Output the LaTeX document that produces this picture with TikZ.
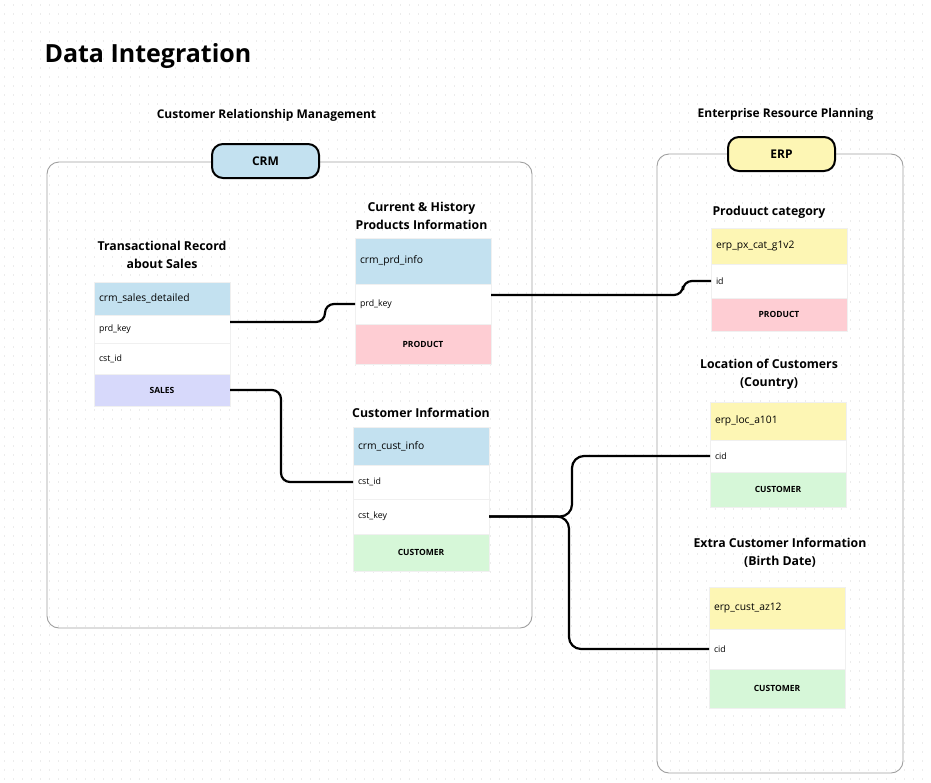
\documentclass[tikz,border=0pt]{standalone}
\usepackage{fontspec}
\setmainfont{Open Sans}
\usetikzlibrary{positioning}
\definecolor{hblue}{HTML}{C3E1F0}
\definecolor{hyellow}{HTML}{FDF6B4}
\definecolor{fpink}{HTML}{FECDD3}
\definecolor{flav}{HTML}{D7D9FB}
\definecolor{fgreen}{HTML}{D6F7D8}
\tikzset{
 box/.style={draw=gray!75,line width=0.9pt,rounded corners=12pt},
 pill/.style={draw=black,line width=2pt,rounded corners=11pt,minimum width=107pt,minimum height=34pt,font=\fontsize{12}{14}\selectfont\bfseries},
 sect/.style={font=\fontsize{12}{14}\selectfont\bfseries},
 ttl/.style={align=center,font=\fontsize{12.3}{18}\selectfont\bfseries},
 cell/.style={draw=gray!12,line width=0.6pt,outer sep=0pt,inner xsep=5pt,text width=126pt,align=left,anchor=north west},
 hdr/.style={cell,font=\fontsize{10.3}{12}\selectfont},
 row/.style={cell,fill=white,font=\fontsize{8.8}{10}\selectfont},
 foot/.style={cell,align=center,font=\fontsize{8.5}{10}\selectfont\bfseries},
 link/.style={line width=2.2pt,rounded corners=9pt},
 dots/.style={gray!15,line width=1.3pt,dash pattern=on 1.3pt off 7.7pt}
}
\begin{document}
\begin{tikzpicture}[x=1pt,y=-1pt]
\useasboundingbox (0,0) rectangle (931,782);
%dot grid
\foreach \y in {5,14,...,782}{\draw[dots] (4,\y) -- (931,\y);}
\node[anchor=base west,font=\fontsize{25}{30}\selectfont\bfseries] (title) at (41,62) {Data Integration};
%containers
\draw[box] (47,162) rectangle (532,628);
\draw[box] (657,154) rectangle (903,773);
\node[pill,fill=hblue] (crm) at (265.5,161) {CRM};
\node[pill,fill=hyellow] (erp) at (781.5,154) {ERP};
\node[sect] (crmT) at (266.5,115) {Customer Relationship Management};
\node[sect] (erpT) at (785.5,114) {Enterprise Resource Planning};
%sales
\node[ttl] (salesT) at (162,255) {Transactional Record\\about Sales};
\node[hdr,fill=hblue,minimum height=33pt] (salesH) at (94,282) {crm\_sales\_detailed};
\node[row,minimum height=28pt,below=0pt of salesH] (salesPrd) {prd\_key};
\node[row,minimum height=31pt,below=0pt of salesPrd] (salesCst) {cst\_id};
\node[foot,fill=flav,minimum height=32pt,below=0pt of salesCst] (salesF) {SALES};
%product
\node[ttl] (prdT) at (421.5,216) {Current \& History\\Products Information};
\node[hdr,fill=hblue,minimum height=46pt] (prdH) at (355,238) {crm\_prd\_info};
\node[row,minimum height=40pt,below=0pt of prdH] (prdKey) {prd\_key};
\node[foot,fill=fpink,minimum height=40pt,below=0pt of prdKey] (prdF) {PRODUCT};
%customer
\node[ttl] (custT) at (421,413) {Customer Information};
\node[hdr,fill=hblue,minimum height=38pt] (custH) at (353,427) {crm\_cust\_info};
\node[row,minimum height=34pt,below=0pt of custH] (custId) {cst\_id};
\node[row,minimum height=35pt,below=0pt of custId] (custKey) {cst\_key};
\node[foot,fill=fgreen,minimum height=37pt,below=0pt of custKey] (custF) {CUSTOMER};
%erp category
\node[ttl] (pxT) at (769,212) {Produuct category};
\node[hdr,fill=hyellow,minimum height=36pt] (pxH) at (711,228) {erp\_px\_cat\_g1v2};
\node[row,minimum height=34pt,below=0pt of pxH] (pxId) {id};
\node[foot,fill=fpink,minimum height=33pt,below=0pt of pxId] (pxF) {PRODUCT};
%erp location
\node[ttl] (locT) at (769,374) {Location of Customers\\(Country)};
\node[hdr,fill=hyellow,minimum height=38pt] (locH) at (710,402) {erp\_loc\_a101};
\node[row,minimum height=32pt,below=0pt of locH] (locCid) {cid};
\node[foot,fill=fgreen,minimum height=35pt,below=0pt of locCid] (locF) {CUSTOMER};
%erp extra
\node[ttl] (azT) at (780,553) {Extra Customer Information\\(Birth Date)};
\node[hdr,fill=hyellow,minimum height=42pt] (azH) at (709,587) {erp\_cust\_az12};
\node[row,minimum height=40pt,below=0pt of azH] (azCid) {cid};
\node[foot,fill=fgreen,minimum height=39pt,below=0pt of azCid] (azF) {CUSTOMER};
%links
\draw[link] ([yshift=-7pt]salesPrd.north east) -- ++(95,0) |- (prdKey.west);
\draw[link] ([yshift=-11pt]prdKey.north east) -- ++(192,0) |- (pxId.west);
\draw[link] (salesF.east) -- ++(51,0) |- (custId.west);
\draw[link,rounded corners=12pt] (custKey.east) -- ++(83,0) |- (locCid.west);
\draw[link,rounded corners=12pt] (custKey.east) -- ++(80,0) |- (azCid.west);
\end{tikzpicture}
\end{document}
